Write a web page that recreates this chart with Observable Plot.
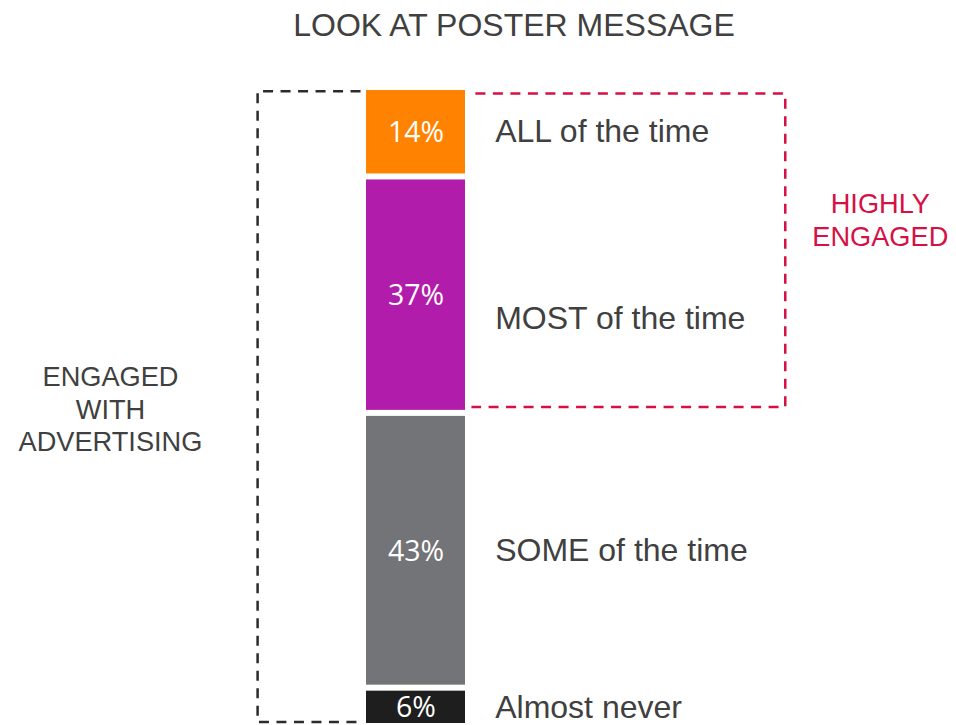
<!DOCTYPE html>
<html><head><meta charset="utf-8">
<script src="https://cdn.jsdelivr.net/npm/d3@7"></script>
<script src="https://cdn.jsdelivr.net/npm/@observablehq/plot@0.6"></script>
<style>body{margin:0;background:#fff;overflow:hidden}</style>
</head><body><div id="chart"></div>
<script>
const title = "LOOK AT POSTER MESSAGE";
const categories = ["ALL of the time", "MOST of the time", "SOME of the time", "Almost never"];
const values = [14, 37, 43, 6];
const colors = ["#ff8300", "#b21caa", "#737477", "#1e1e1e"];
const leftGroupLabel = ["ENGAGED", "WITH", "ADVERTISING"];
const rightGroupLabel = ["HIGHLY", "ENGAGED"];
const highlyEngagedCount = 2; // ALL + MOST

let acc = 0;
const rows = categories.map((c, i) => {
  const r = {category: c, value: values[i], color: colors[i], y1: acc, y2: acc + values[i]};
  acc += values[i];
  r.mid = (r.y1 + r.y2) / 2;
  return r;
});
const highlyEnd = rows[highlyEngagedCount - 1].y2;

// bracket outlines (x in bar-width units, y in percent)
const blackBracket = [
  {x: -0.06, y: 0.6}, {x: -1.10, y: 0.6}, {x: -1.10, y: 99.3}, {x: -0.06, y: 99.3}
];
const redBox = [
  {x: 1.10, y: 0.95}, {x: 4.23, y: 0.95}, {x: 4.23, y: highlyEnd - 1.0}, {x: 1.06, y: highlyEnd - 1.0}
];

const sans = "'Liberation Sans', Arial, sans-serif";
const grey = "#404040";
const red = "#d61046";

const chart = Plot.plot({
  width: 956,
  height: 725,
  margin: 0,
  x: {domain: [0, 1], range: [366, 465], axis: null},
  y: {domain: [0, 100], range: [87, 726], axis: null},
  marks: [
    Plot.rect(rows, {x1: () => 0, x2: () => 1, y1: "y1", y2: "y2", fill: d => d.color, insetTop: 3, insetBottom: 3}),
    Plot.text(rows, {x: () => 0.5, y: "mid", text: d => d.value + "%", fill: "white",
      fontFamily: "'Open Sans', sans-serif", fontSize: 28.5, dy: 1}),
    Plot.text(rows.filter(d => d.category !== "MOST of the time"), {x: () => 1.30, y: "mid", text: "category",
      textAnchor: "start", fill: grey, fontFamily: sans, fontSize: 32, dy: 0}),
    Plot.text(rows.filter(d => d.category === "MOST of the time"), {x: () => 1.30, y: "mid", text: "category",
      textAnchor: "start", fill: grey, fontFamily: sans, fontSize: 32, dy: 24}),
    Plot.line(blackBracket, {x: "x", y: "y", stroke: "#2b2b2b", strokeWidth: 2.5, strokeDasharray: "10,7.5",
      strokeLinecap: "butt", strokeLinejoin: "miter"}),
    Plot.line(redBox, {x: "x", y: "y", stroke: red, strokeWidth: 2.5, strokeDasharray: "10,7.5",
      strokeLinecap: "butt", strokeLinejoin: "miter"}),
    Plot.text([leftGroupLabel.join("\n")], {x: () => -2.586, y: () => 50.15, text: d => d,
      fill: grey, fontFamily: sans, fontSize: 27.2, lineHeight: 1.21}),
    Plot.text([rightGroupLabel.join("\n")], {x: () => 5.19, y: () => 20.6, text: d => d,
      fill: red, fontFamily: sans, fontSize: 27.2, lineHeight: 1.21}),
    Plot.text([title], {x: () => 1.49, frameAnchor: "top", dy: 25, text: d => d, lineAnchor: "middle",
      fill: grey, fontFamily: sans, fontSize: 32})
  ]
});
document.getElementById("chart").appendChild(chart);
</script>
</body></html>
